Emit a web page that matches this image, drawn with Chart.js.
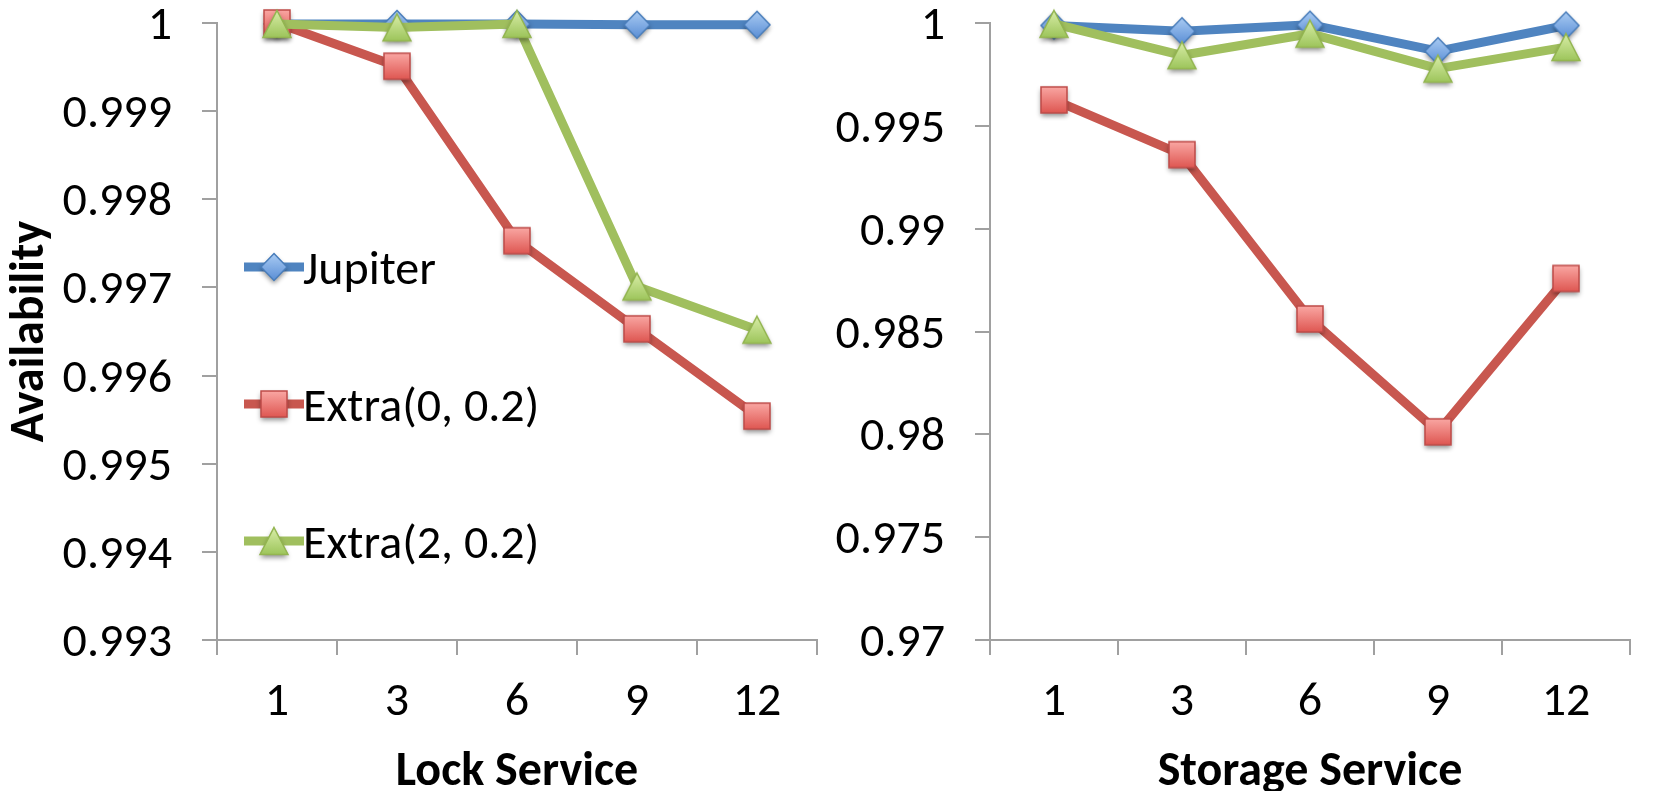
<!DOCTYPE html>
<html>
<head>
<meta charset="utf-8">
<script src="https://cdn.jsdelivr.net/npm/chart.js@4.4.1/dist/chart.umd.min.js"></script>
<style>
  html, body { margin: 0; padding: 0; background: #ffffff; }
  #wrap { position: relative; width: 1653px; height: 791px; overflow: hidden; }
  canvas { position: absolute; top: 0; }
  #lock { left: 0; }
  #storage { left: 825px; }
</style>
</head>
<body>
<div id="wrap">
  <canvas id="lock" width="840" height="791"></canvas>
  <canvas id="storage" width="828" height="791"></canvas>
</div>
<script>
// Number of replicas on the x axis, shared by both panels
const categories = ['1', '3', '6', '9', '12'];
const seriesNames = ['Jupiter', 'Extra(0, 0.2)', 'Extra(2, 0.2)'];

// Lock service availability
const lockJupiter = [0.99999, 0.99999, 0.99999, 0.99998, 0.99998];
const lockExtra0  = [1.00000, 0.99951, 0.99753, 0.99653, 0.99554];
const lockExtra2  = [0.99999, 0.99995, 0.99999, 0.99701, 0.99652];

// Storage service availability
const storageJupiter = [0.99988, 0.99960, 0.99992, 0.99863, 0.99988];
const storageExtra0  = [0.99626, 0.99360, 0.98561, 0.98012, 0.98758];
const storageExtra2  = [0.99996, 0.99843, 0.99948, 0.99778, 0.99883];

// Y axis tick values
const lockTicks    = [0.993, 0.994, 0.995, 0.996, 0.997, 0.998, 0.999, 1];
const storageTicks = [0.97, 0.975, 0.98, 0.985, 0.99, 0.995, 1];

const axisColor = '#A0A0A0';
const textFamily = "Carlito, 'Open Sans', sans-serif";
const lineColors = ['#4F84C0', '#C8574F', '#A0BF5E'];

// Marker images with a soft drop shadow and a vertical gradient fill
function shapePath(g, shape, cx, cy) {
  g.beginPath();
  if (shape === 'diamond') {
    g.moveTo(cx, cy - 13.5); g.lineTo(cx + 13, cy); g.lineTo(cx, cy + 13.5); g.lineTo(cx - 13, cy);
  } else if (shape === 'square') {
    g.rect(cx - 13, cy - 13, 26, 26);
  } else {
    g.moveTo(cx, cy - 13.5); g.lineTo(cx + 14, cy + 13.5); g.lineTo(cx - 14, cy + 13.5);
  }
  g.closePath();
}
function makeMarker(shape, top, bottom, stroke) {
  const s = 48;
  const c = document.createElement('canvas');
  c.width = s; c.height = s;
  const g = c.getContext('2d');
  const cx = s / 2, cy = s / 2;
  g.save();
  g.shadowColor = 'rgba(0,0,0,0.45)';
  g.shadowBlur = 5;
  g.shadowOffsetY = 3;
  shapePath(g, shape, cx, cy);
  g.fillStyle = bottom;
  g.fill();
  g.restore();
  const grad = g.createLinearGradient(0, cy - 13.5, 0, cy + 13.5);
  grad.addColorStop(0, top);
  grad.addColorStop(1, bottom);
  shapePath(g, shape, cx, cy);
  g.fillStyle = grad;
  g.fill();
  g.lineWidth = 1.5;
  g.strokeStyle = stroke;
  g.stroke();
  return c;
}
const markers = [
  makeMarker('diamond', '#A9CBF3', '#5A8ED5', '#4A7EBB'),
  makeMarker('square', '#FAA8A4', '#DE5550', '#BE4B48'),
  makeMarker('triangle', '#D9EDA8', '#9DC55B', '#93B550')
];

// Legend samples: a short line segment with the marker in its middle,
// sitting slightly above the text centre line
function makeSample(i) {
  const c = document.createElement('canvas');
  c.width = 60; c.height = 58;
  const g = c.getContext('2d');
  const ly = 24;
  g.strokeStyle = lineColors[i];
  g.lineWidth = 9;
  g.beginPath(); g.moveTo(0, ly); g.lineTo(60, ly); g.stroke();
  g.drawImage(markers[i], 30 - 24, ly - 24);
  return c;
}
const samples = [0, 1, 2].map(makeSample);

function buildDatasets(values) {
  // the last series is drawn on top
  return values.map((data, i) => ({
    label: seriesNames[i],
    data: data,
    borderColor: lineColors[i],
    backgroundColor: lineColors[i],
    borderWidth: 9,
    borderJoinStyle: 'round',
    borderCapStyle: 'round',
    pointStyle: markers[i],
    pointRadius: 14,
    pointHoverRadius: 14,
    tension: 0,
    clip: false,
    order: 2 - i
  }));
}

function yScale(ticksArr, width, withTitle) {
  return {
    type: 'linear',
    min: ticksArr[0],
    max: ticksArr[ticksArr.length - 1],
    afterBuildTicks: s => { s.ticks = ticksArr.map(v => ({ value: v })); },
    afterFit: s => { s.width = width; s.paddingTop = 0; s.paddingBottom = 0; },
    border: { display: true, color: axisColor, width: 2 },
    grid: { display: true, drawOnChartArea: false, drawTicks: true, tickLength: 15, color: axisColor, lineWidth: 2 },
    ticks: {
      font: { family: textFamily, size: 48 },
      color: '#000',
      padding: 30,
      labelOffset: 4,
      callback: v => String(Number(Number(v).toFixed(3)))
    },
    title: {
      display: withTitle,
      text: 'Availability',
      color: '#000',
      font: { family: textFamily, size: 48, weight: 'bold' },
      padding: { top: 2, bottom: 0 }
    }
  };
}

function xScale(titleText) {
  return {
    type: 'category',
    offset: true,
    afterFit: s => { s.height = 151; s.paddingLeft = 0; s.paddingRight = 0; },
    border: { display: true, color: axisColor, width: 2 },
    grid: { display: true, offset: true, drawOnChartArea: false, drawTicks: true, tickLength: 15, color: axisColor, lineWidth: 2 },
    ticks: {
      font: { family: textFamily, size: 48 },
      color: '#000',
      padding: 19,
      maxRotation: 0,
      autoSkip: false
    },
    title: {
      display: true,
      text: titleText,
      color: '#000',
      font: { family: textFamily, size: 48, weight: 'bold' },
      padding: { top: 0, bottom: -11 }
    }
  };
}

// Places the vertical legend inside the plot area of the lock panel
const legendPlacer = {
  id: 'legendPlacer',
  afterLayout(chart) {
    const lg = chart.legend;
    if (!lg || !lg.options.display) return;
    const pad = lg.options.labels.padding;
    lg.left = 269 - pad;
    lg.top = 248 - pad;
    lg.width = 420;
    lg.height = 620;
    lg.right = lg.left + lg.width;
    lg.bottom = lg.top + lg.height;
  }
};

function makeChart(id, values, ticksArr, yWidth, title, showLegend, padRight) {
  return new Chart(document.getElementById(id), {
    type: 'line',
    data: { labels: categories, datasets: buildDatasets(values) },
    options: {
      responsive: false,
      animation: false,
      devicePixelRatio: 1,
      layout: { padding: { top: 21, left: 0, right: padRight, bottom: 0 } },
      scales: { x: xScale(title), y: yScale(ticksArr, yWidth, showLegend) },
      plugins: {
        tooltip: { enabled: false },
        legend: {
          display: showLegend,
          position: 'chartArea',
          align: 'start',
          labels: {
            usePointStyle: true,
            pointStyleWidth: 10,
            padding: 89,
            color: '#000',
            font: { family: textFamily, size: 48 },
            generateLabels: () => seriesNames.map((name, i) => ({
              text: name,
              pointStyle: samples[i],
              fillStyle: 'rgba(0,0,0,0)',
              strokeStyle: 'rgba(0,0,0,0)',
              lineWidth: 0,
              hidden: false,
              datasetIndex: i,
              fontColor: '#000'
            }))
          }
        }
      }
    },
    plugins: [legendPlacer]
  });
}

makeChart('lock', [lockJupiter, lockExtra0, lockExtra2], lockTicks, 217, 'Lock Service', true, 5);
makeChart('storage', [storageJupiter, storageExtra0, storageExtra2], storageTicks, 165, 'Storage Service', false, 2);
</script>
</body>
</html>
